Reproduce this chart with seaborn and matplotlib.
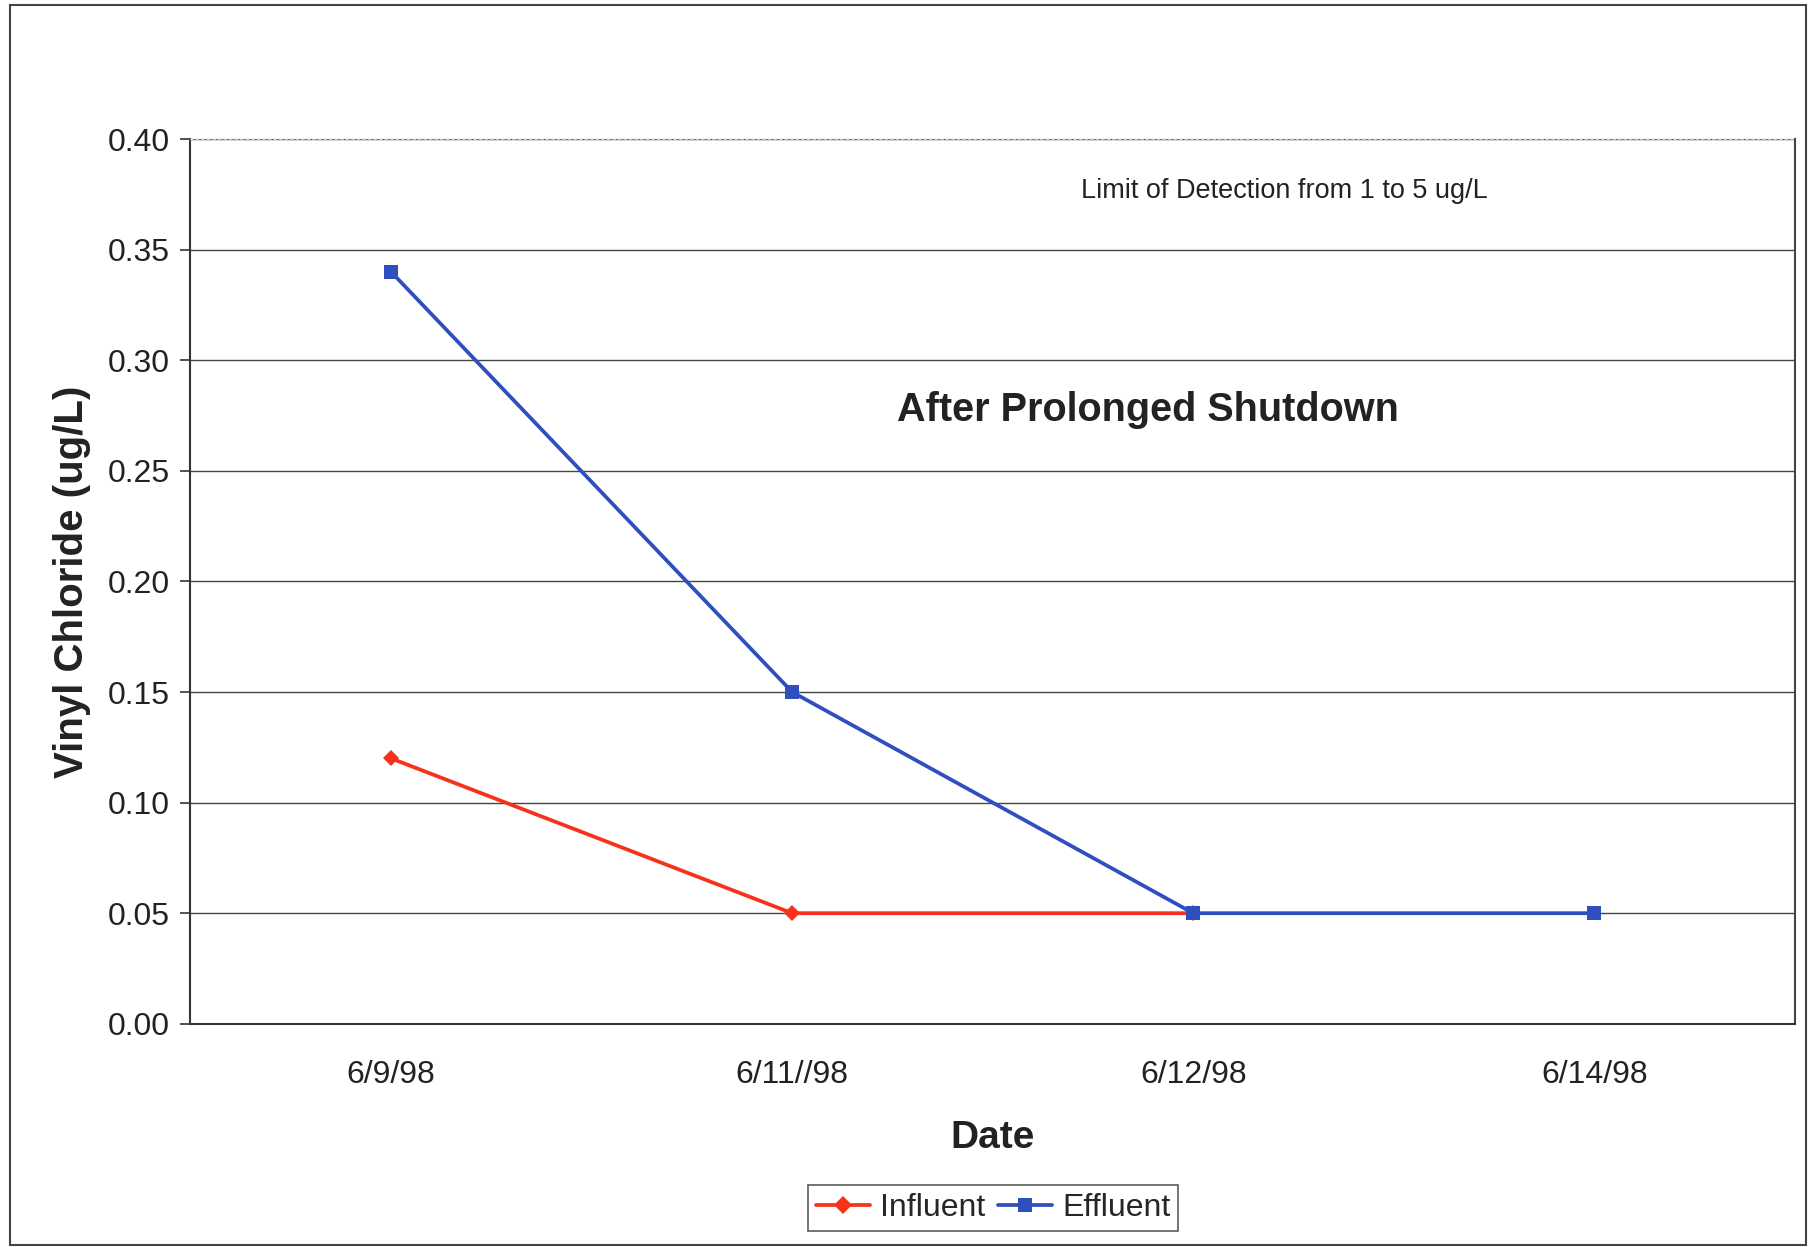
import matplotlib
matplotlib.use("Agg")
import matplotlib.pyplot as plt
import seaborn as sns
import pandas as pd
import numpy as np
from matplotlib.patches import Rectangle
from matplotlib.lines import Line2D

dates = ["6/9/98", "6/11//98", "6/12/98", "6/14/98"]
influent = [0.12, 0.05, 0.05, np.nan]
effluent = [0.34, 0.15, 0.05, 0.05]
yticks = [0.00, 0.05, 0.10, 0.15, 0.20, 0.25, 0.30, 0.35, 0.40]

sns.set_theme(style="white")
plt.rcParams['font.family'] = ['Liberation Sans', 'DejaVu Sans']

df = pd.DataFrame({
    "Date": list(range(len(dates))) * 2,
    "Value": influent + effluent,
    "Series": ["Influent"] * len(dates) + ["Effluent"] * len(dates),
})

fig = plt.figure(figsize=(18.14, 12.47), dpi=100)
ax = fig.add_axes([0.105, 0.179, 0.8845, 0.7095])

palette = {"Influent": "#F5321A", "Effluent": "#2F4FBF"}
markers = {"Influent": "D", "Effluent": "s"}
sns.lineplot(data=df, x="Date", y="Value", hue="Series", style="Series",
             palette=palette, markers=markers, dashes=False, linewidth=2.7,
             markersize=10, markeredgewidth=0, ax=ax, legend=False)
ax.lines[0].set_markersize(8.5)

ax.set_xlim(-0.5, 3.5)
ax.set_ylim(0, 0.40)
ax.set_yticks(yticks)
ax.set_yticklabels([f"{v:.2f}" for v in yticks], fontsize=23, color="#222222")
ax.set_xticks([0.5, 1.5, 2.5, 3.5])
ax.set_xticklabels([])
ax.set_xticks(range(len(dates)), minor=True)
ax.set_xticklabels(dates, minor=True, fontsize=23, color="#222222")
ax.tick_params(axis='x', which='minor', length=0, pad=26)
ax.tick_params(axis='x', which='major', length=6, width=1.2, color="#333333", direction='out')
ax.tick_params(axis='y', length=7, width=1.2, color="#333333", direction='out', pad=8, left=True)

ax.grid(axis='y', color="#444444", linewidth=1.0)
ax.grid(axis='x', visible=False)
for s in ["left", "bottom"]:
    ax.spines[s].set_color("#333333")
    ax.spines[s].set_linewidth(1.5)
ax.spines["right"].set_color("#444444")
ax.spines["right"].set_linewidth(1.5)
ax.spines["top"].set_color("#bbbbbb")
ax.spines["top"].set_linewidth(1.0)
ax.spines["top"].set_linestyle((0, (2, 2)))

ax.set_xlabel("Date", fontsize=28, fontweight="bold", color="#222222", labelpad=22)
ax.set_ylabel("Vinyl Chloride (ug/L)", fontsize=29, fontweight="bold", color="#222222", labelpad=12)

ax.text(1.887, 0.2775, "After Prolonged Shutdown", fontsize=28.5, fontweight="bold",
        color="#222222", ha="center", va="center")
ax.text(2.227, 0.3765, "Limit of Detection from 1 to 5 ug/L", fontsize=19.5,
        color="#222222", ha="center", va="center")

handles = [Line2D([0], [0], color=palette["Influent"], marker="D", markersize=9, lw=2.7, markeredgewidth=0),
           Line2D([0], [0], color=palette["Effluent"], marker="s", markersize=10, lw=2.7, markeredgewidth=0)]
leg = fig.legend(handles, ["Influent", "Effluent"], loc="center", bbox_to_anchor=(0.5475, 0.0315),
                 ncol=2, fontsize=23, frameon=True, fancybox=False, handlelength=1.7,
                 handletextpad=0.3, columnspacing=0.4, borderpad=0.25, borderaxespad=0.2)
leg.get_frame().set_edgecolor("#333333")
leg.get_frame().set_linewidth(1.2)

fig.patches.append(Rectangle((0.0055, 0.002), 0.99, 0.994, transform=fig.transFigure,
                             fill=False, edgecolor="#444444", linewidth=1.5))

fig.savefig("out.png", dpi=100, facecolor="white")
